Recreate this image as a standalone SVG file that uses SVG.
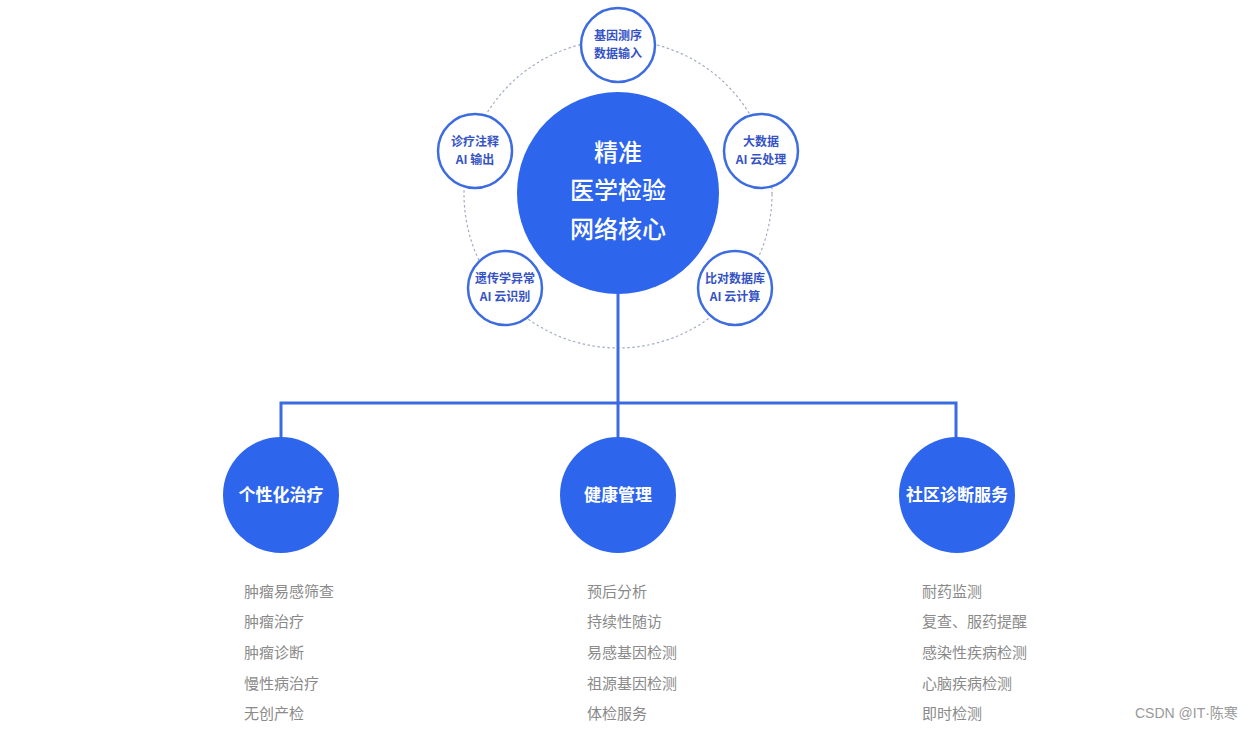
<svg xmlns="http://www.w3.org/2000/svg" width="1251" height="731" viewBox="0 0 1251 731">
<style>
.core{fill:#2d65ec}
.sat{fill:#fff;stroke:#3d6be0;stroke-width:2.5}
.satt{font-family:"Noto Sans CJK SC","Noto Sans",sans-serif;font-size:12px;font-weight:700;fill:#3553c4;text-anchor:middle}
.coret{font-family:"Noto Sans CJK SC",sans-serif;font-size:24px;font-weight:500;fill:#fff;text-anchor:middle}
.bt{font-family:"Noto Sans CJK SC",sans-serif;font-size:17px;font-weight:700;fill:#fff;text-anchor:middle}
.lt{font-family:"Noto Sans CJK SC",sans-serif;font-size:15px;fill:#8a8a8a}
.conn{fill:none;stroke:#3a6be0;stroke-width:3}
</style>
<rect width="1251" height="731" fill="#fff"/>
<circle cx="618" cy="194" r="154" fill="none" stroke="#a3adc6" stroke-width="1.2" stroke-dasharray="2.5 2.5"/>
<g id="connectors">
<path class="conn" d="M618 294 V438"/>
<path class="conn" d="M281 438 V403 H956 V438"/>
</g>
<g id="core">
<circle class="core" cx="618" cy="193" r="101"/>
<text class="coret" x="618" y="161">精准</text>
<text class="coret" x="618" y="199">医学检验</text>
<text class="coret" x="618" y="238">网络核心</text>
</g>
<g id="sat-top">
<circle class="sat" cx="618" cy="45" r="37"/>
<text class="satt" x="618" y="40">基因测序</text>
<text class="satt" x="618" y="58">数据输入</text>
</g>
<g id="sat-right">
<circle class="sat" cx="761" cy="151" r="37"/>
<text class="satt" x="761" y="146">大数据</text>
<text class="satt" x="761" y="164">AI 云处理</text>
</g>
<g id="sat-left">
<circle class="sat" cx="475" cy="151" r="37"/>
<text class="satt" x="475" y="146">诊疗注释</text>
<text class="satt" x="475" y="164">AI 输出</text>
</g>
<g id="sat-bl">
<circle class="sat" cx="505" cy="288" r="37"/>
<text class="satt" x="505" y="283">遗传学异常</text>
<text class="satt" x="505" y="301">AI 云识别</text>
</g>
<g id="sat-br">
<circle class="sat" cx="735" cy="288" r="37"/>
<text class="satt" x="735" y="283">比对数据库</text>
<text class="satt" x="735" y="301">AI 云计算</text>
</g>
<g id="node-personal">
<circle class="core" cx="281" cy="495" r="58"/>
<text class="bt" x="281" y="501">个性化治疗</text>
<text class="lt" x="244" y="597">肿瘤易感筛查</text>
<text class="lt" x="244" y="627">肿瘤治疗</text>
<text class="lt" x="244" y="658">肿瘤诊断</text>
<text class="lt" x="244" y="689">慢性病治疗</text>
<text class="lt" x="244" y="719">无创产检</text>
</g>
<g id="node-health">
<circle class="core" cx="618" cy="495" r="58"/>
<text class="bt" x="618" y="501">健康管理</text>
<text class="lt" x="587" y="597">预后分析</text>
<text class="lt" x="587" y="627">持续性随访</text>
<text class="lt" x="587" y="658">易感基因检测</text>
<text class="lt" x="587" y="689">祖源基因检测</text>
<text class="lt" x="587" y="719">体检服务</text>
</g>
<g id="node-community">
<circle class="core" cx="957" cy="495" r="58"/>
<text class="bt" x="957" y="501">社区诊断服务</text>
<text class="lt" x="922" y="597">耐药监测</text>
<text class="lt" x="922" y="627">复查、服药提醒</text>
<text class="lt" x="922" y="658">感染性疾病检测</text>
<text class="lt" x="922" y="689">心脑疾病检测</text>
<text class="lt" x="922" y="719">即时检测</text>
</g>
<text x="1135" y="718" font-family="'Liberation Sans','Noto Sans CJK SC',sans-serif" font-size="14" fill="#999">CSDN @IT·陈寒</text>
</svg>
